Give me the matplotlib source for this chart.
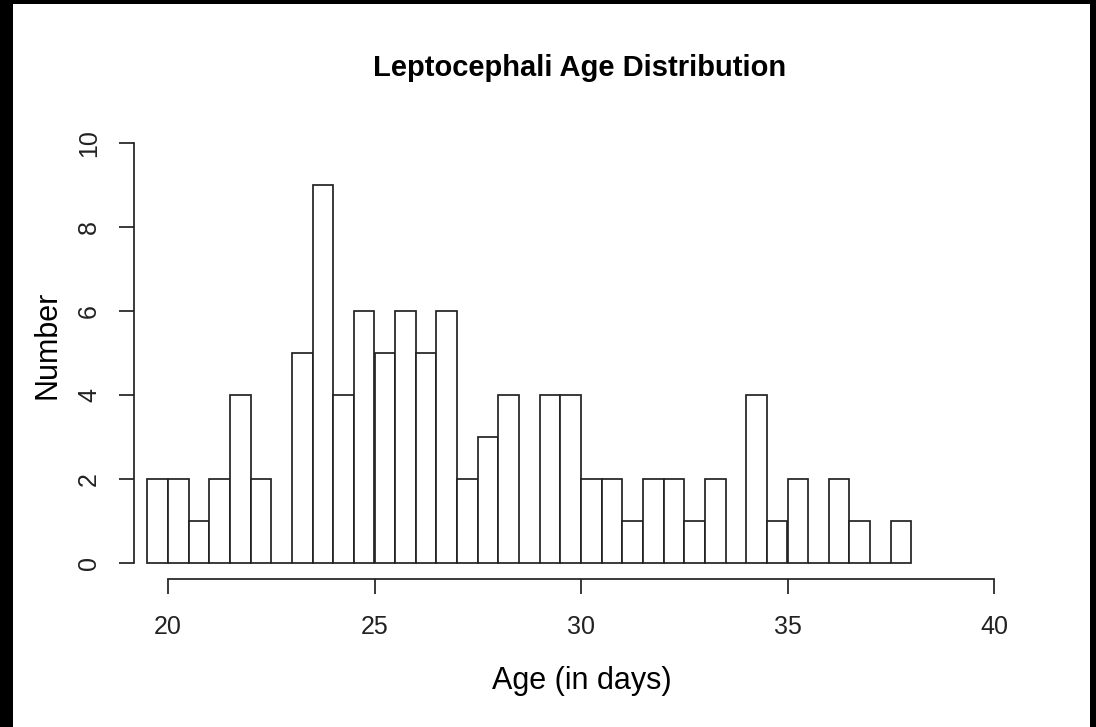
import matplotlib

matplotlib.use("Agg")
import matplotlib.pyplot as plt
from matplotlib.patches import Rectangle

plt.rcParams["font.family"] = ["Liberation Sans", "DejaVu Sans"]

# --- data: histogram bins (left edges, width 0.5 day) and counts ---
BIN_LEFT = [19.5, 20.0, 20.5, 21.0, 21.5, 22.0, 22.5, 23.0, 23.5, 24.0,
            24.5, 25.0, 25.5, 26.0, 26.5, 27.0, 27.5, 28.0, 28.5, 29.0,
            29.5, 30.0, 30.5, 31.0, 31.5, 32.0, 32.5, 33.0, 33.5, 34.0,
            34.5, 35.0, 35.5, 36.0, 36.5, 37.0, 37.5]
COUNTS = [2, 2, 1, 2, 4, 2, 0, 5, 9, 4,
          6, 5, 6, 5, 6, 2, 3, 4, 0, 4,
          4, 2, 2, 1, 2, 2, 1, 2, 0, 4,
          1, 2, 0, 2, 1, 0, 1]
BIN_W = 0.5
XTICKS = [20, 25, 30, 35, 40]
YTICKS = [0, 2, 4, 6, 8, 10]

W, H = 1096, 727
fig = plt.figure(figsize=(W / 100, H / 100), dpi=100)
fig.patch.set_facecolor("black")
# white canvas inside the black frame
fig.patches.append(Rectangle((13 / W, 0), (1090 - 13) / W, (H - 4) / H,
                             transform=fig.transFigure, facecolor="white",
                             edgecolor="none", zorder=-10))


def px(x0, y0, x1, y1):
    """pixel box (top-left origin) -> figure fraction rect"""
    return [x0 / W, 1 - y1 / H, (x1 - x0) / W, (y1 - y0) / H]


ax = fig.add_axes(px(147.35, 143, 994, 563))
ax.set_zorder(5)
ax.set_facecolor("none")
ax.bar(BIN_LEFT, COUNTS, width=BIN_W, align="edge", facecolor="white",
       edgecolor="#222222", linewidth=1.25, clip_on=False)
ax.set_xlim(19.5, 40)
ax.set_ylim(0, 10)

for s in ("top", "right"):
    ax.spines[s].set_visible(False)
ax.spines["left"].set_position(("outward", 9.4))
ax.spines["bottom"].set_position(("outward", 11.5))
ax.spines["left"].set_bounds(0, 10)
ax.spines["bottom"].set_bounds(20, 40)
for s in ("left", "bottom"):
    ax.spines[s].set_linewidth(1.25)
    ax.spines[s].set_color("#222222")

ax.set_xticks(XTICKS)
ax.set_yticks(YTICKS)
ax.tick_params(axis="both", direction="out", length=10.8, width=1.25,
               color="#222222", labelsize=18, labelcolor="#222222")
ax.tick_params(axis="x", pad=15)
ax.tick_params(axis="y", pad=13)
for lab in ax.get_yticklabels():
    lab.set_rotation(90)
    lab.set_va("center")

fig.text(580 / W, 1 - 68 / H, "Leptocephali Age Distribution", fontsize=21,
         fontweight="bold", ha="center", va="center", zorder=6)
fig.text(582 / W, 1 - 681 / H, "Age (in days)", fontsize=22,
         ha="center", va="center", zorder=6)
fig.text(47 / W, 1 - 345 / H, "Number", fontsize=22, rotation=90,
         ha="center", va="center", zorder=6)

fig.savefig("out.png", dpi=100, facecolor=fig.get_facecolor())
